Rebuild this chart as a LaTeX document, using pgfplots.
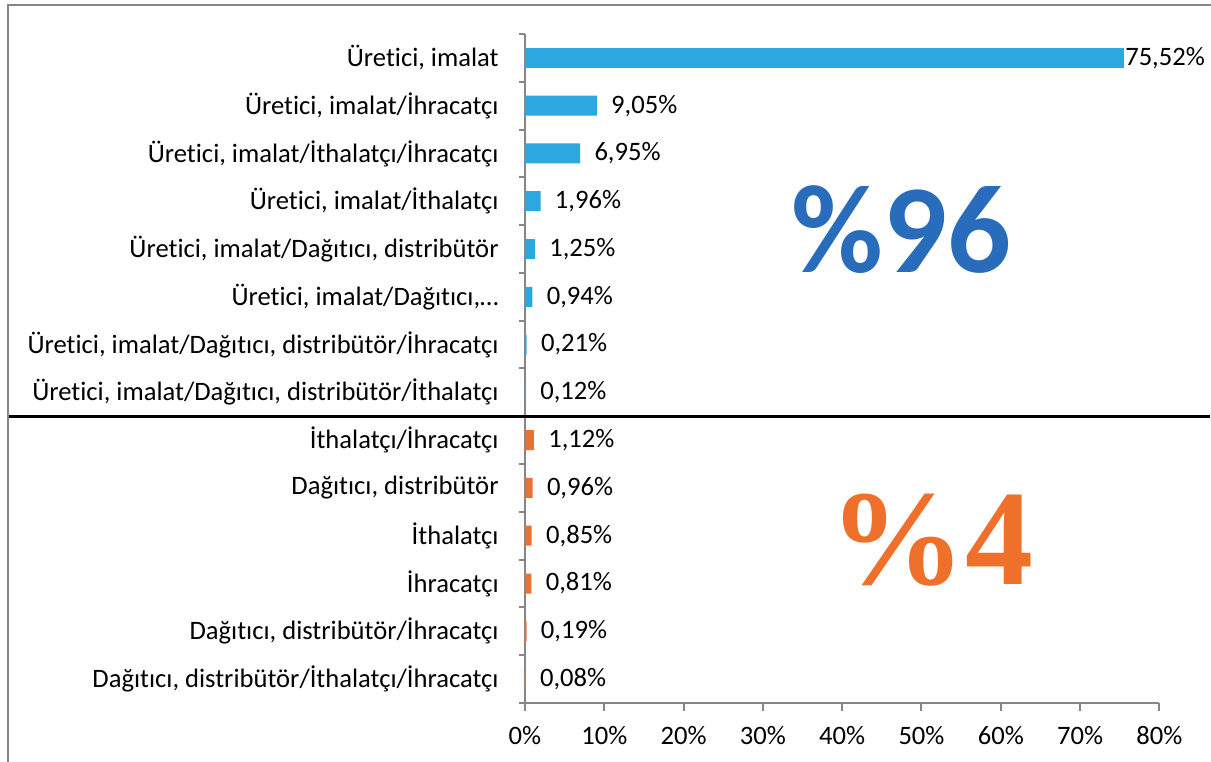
\documentclass[border=0pt]{standalone}
\usepackage{fontspec}
\setmainfont{Carlito}[Ligatures={NoCommon}]
\newfontfamily\bigsans{Carlito}
\newfontfamily\bigserif{Liberation Serif}
\usepackage{pgfplots}
\pgfplotsset{compat=1.18}
\definecolor{BarBlue}  {RGB}{ 44,167,223}
\definecolor{BarOrange}{RGB}{232,114, 50}
\definecolor{AxisGray} {RGB}{134,134,134}
\definecolor{BigBlue}  {RGB}{ 42,108,188}
\definecolor{BigOrange}{RGB}{238,112, 42}

\begin{document}
\begin{tikzpicture}
\begin{axis}[
    name=ax,
    scale only axis,
    width=317.2bp,
    height=334.5bp,
    xbar,
    bar width=10bp,
    bar shift=0pt,
    xmin=0, xmax=80,
    ymin=0.5, ymax=14.5,
    axis x line*=bottom,
    axis y line*=left,
    axis line style={draw=AxisGray, line width=1bp},
    tick align=outside,
    major tick length=4bp,
    minor tick length=3bp,
    tick style={draw=AxisGray, line width=1bp},
    major y tick style={draw=none},
    xtick={0,10,...,80},
    xticklabels={0\%,10\%,20\%,30\%,40\%,50\%,60\%,70\%,80\%},
    ytick={1,...,14},
    minor ytick={0.5,1.5,...,14.5},
    yticklabels={
        {Dağıtıcı, distribütör/İthalatçı/İhracatçı},
        {Dağıtıcı, distribütör/İhracatçı},
        {İhracatçı},
        {İthalatçı},
        {Dağıtıcı, distribütör},
        {İthalatçı/İhracatçı},
        {Üretici, imalat/Dağıtıcı, distribütör/İthalatçı},
        {Üretici, imalat/Dağıtıcı, distribütör/İhracatçı},
        {Üretici, imalat/Dağıtıcı,…},
        {Üretici, imalat/Dağıtıcı, distribütör},
        {Üretici, imalat/İthalatçı},
        {Üretici, imalat/İthalatçı/İhracatçı},
        {Üretici, imalat/İhracatçı},
        {Üretici, imalat}
    },
    tick label style={font=\fontsize{13.3bp}{15bp}\selectfont, text=black},
    xticklabel style={inner sep=0pt, anchor=north, yshift=-7.5bp},
    yticklabel style={inner sep=0pt, anchor=east, xshift=-9bp},
    point meta=explicit symbolic,
    nodes near coords={\pgfplotspointmeta},
    every node near coord/.append style={
        font=\fontsize{13.3bp}{15bp}\selectfont,
        text=black, anchor=west, inner sep=0pt, xshift=7bp
    },
    clip=false,
]

% top group, first bar has its label right at the bar end
\addplot[fill=BarBlue, draw=none,
    every node near coord/.append style={xshift=-6.5bp}] coordinates {
    (75.52,14) [75,52\%]
};
\addplot[fill=BarBlue, draw=none] coordinates {
    (9.05,13) [9,05\%]
    (6.95,12) [6,95\%]
    (1.96,11) [1,96\%]
    (1.25,10) [1,25\%]
    (0.94,9)  [0,94\%]
    (0.21,8)  [0,21\%]
    (0.12,7)  [0,12\%]
};
\addplot[fill=BarOrange, draw=none] coordinates {
    (1.12,6) [1,12\%]
    (0.96,5) [0,96\%]
    (0.85,4) [0,85\%]
    (0.81,3) [0,81\%]
    (0.19,2) [0,19\%]
    (0.08,1) [0,08\%]
};

% separator between the two groups
\draw[black, line width=1.5bp]
    ([xshift=-258.5bp]axis cs:0,6.5) -- ([xshift=25.5bp]axis cs:80,6.5);

\node[text=BigBlue, font=\bigsans\bfseries\fontsize{63bp}{63bp}\selectfont]
    at (axis cs:47.5,10.4) {\%96};
\node[text=BigOrange, font=\bigserif\bfseries\fontsize{68bp}{68bp}\selectfont]
    at (axis cs:51.2,3.91) {\%4};
\end{axis}

% outer chart frame (left and top visible)
\draw[AxisGray, line width=1bp]
    ([shift={(-258.5bp,-40bp)}]ax.south west) -- ([shift={(-258.5bp,349bp)}]ax.south west)
    -- ([shift={(360bp,349bp)}]ax.south west);

\pgfresetboundingbox
\path ([shift={(-262.5bp,-29.5bp)}]ax.south west) rectangle ([shift={(343bp,351.5bp)}]ax.south west);
\end{tikzpicture}
\end{document}
